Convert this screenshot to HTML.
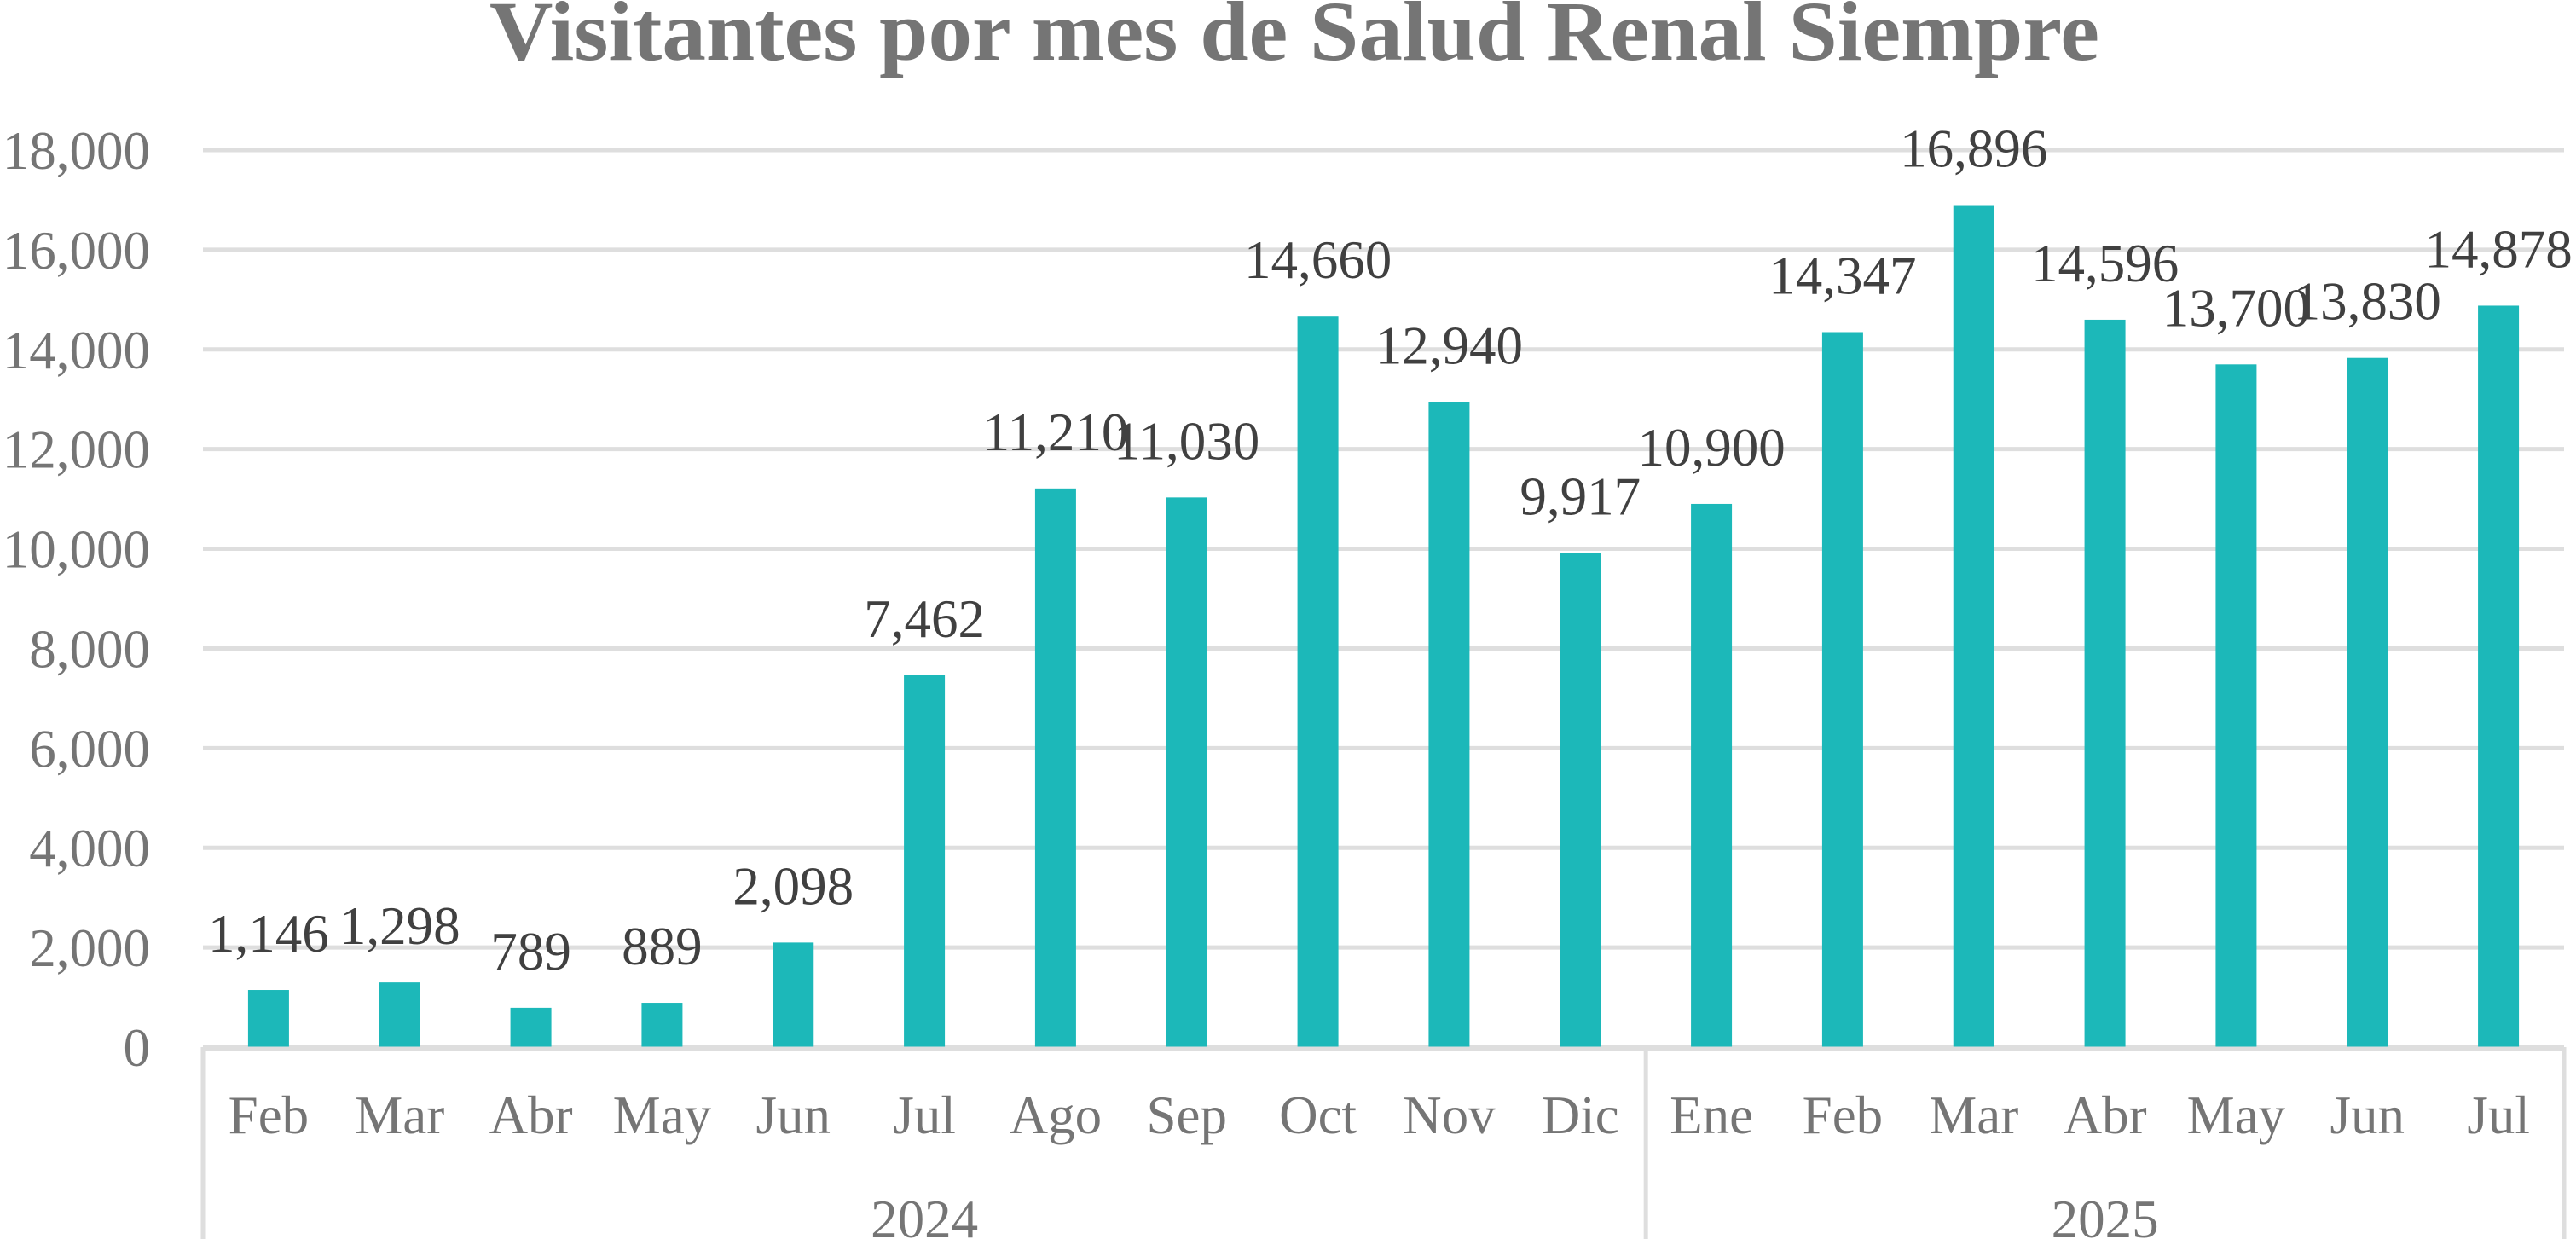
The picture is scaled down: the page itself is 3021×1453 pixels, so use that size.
<!DOCTYPE html>
<html><head><meta charset="utf-8"><style>
html,body{margin:0;padding:0;background:#fff;width:3021px;height:1453px;overflow:hidden}
svg{display:block}
text{font-family:"Liberation Serif",serif}
</style></head><body>
<svg id="chart" width="3021" height="1453" viewBox="0 0 3021 1453" xmlns="http://www.w3.org/2000/svg">
<text x="1518" y="70" text-anchor="middle" font-size="100" font-weight="bold" fill="#757575" textLength="1888" lengthAdjust="spacingAndGlyphs">Visitantes por mes de Salud Renal Siempre</text>
<g id="grid"></g>
<g id="yticks"></g>
<g id="bars"></g>
<g id="labels"></g>
<g id="xaxis"></g>
</svg>
<script>
const months = ["Feb","Mar","Abr","May","Jun","Jul","Ago","Sep","Oct","Nov","Dic","Ene","Feb","Mar","Abr","May","Jun","Jul"];
const values = [1146,1298,789,889,2098,7462,11210,11030,14660,12940,9917,10900,14347,16896,14596,13700,13830,14878];
const years = ["2024","2025"];
const yearCounts = [11,7];
const yTicks = [0,2000,4000,6000,8000,10000,12000,14000,16000,18000];

const NS="http://www.w3.org/2000/svg";
const L=238,R=3007,Y0=1228,Y1=176,YMAX=18000;
const cw=(R-L)/months.length;
const bw=48;
function y(v){return Y0-(Y0-Y1)*v/YMAX;}
function xc(i){return L+cw*(i+0.5);}
function mk(tag,attrs,parent,txt){const e=document.createElementNS(NS,tag);for(const k in attrs)e.setAttribute(k,attrs[k]);if(txt!==undefined)e.textContent=txt;parent.appendChild(e);return e;}
const fmt=v=>v.toLocaleString("en-US");
const grid=document.getElementById("grid"),yt=document.getElementById("yticks"),bars=document.getElementById("bars"),lab=document.getElementById("labels"),xa=document.getElementById("xaxis");
yTicks.forEach(t=>{
  const g=mk("line",{x1:L,x2:R,y1:y(t),y2:y(t),stroke:"#dedede","stroke-width":5},grid);
  
  
  const tx=mk("text",{x:176,y:y(t)+22,"text-anchor":"end","font-size":63,fill:"#757575"},yt,fmt(t));
  
  
});
values.forEach((v,i)=>{
  const b=mk("rect",{x:xc(i)-bw/2,y:y(v),width:bw,height:Y0-y(v),fill:"#1cb8b9"},bars);
  
  
  const t=mk("text",{x:xc(i),y:y(v)-45,"text-anchor":"middle","font-size":63,fill:"#404040"},lab,fmt(v));
  
  
  const m=mk("text",{x:xc(i),y:1329,"text-anchor":"middle","font-size":63,fill:"#757575"},xa,months[i]);
  
  
});
mk("line",{x1:L,x2:R,y1:Y0+2,y2:Y0+2,stroke:"#dedede","stroke-width":5},xa);
let start=0;
const seps=[0];
yearCounts.forEach((c,k)=>{
  const cx=L+cw*(start+c/2);
  const t=mk("text",{x:cx,y:1451,"text-anchor":"middle","font-size":63,fill:"#757575"},xa,years[k]);
  
  
  start+=c;seps.push(start);
});
seps.forEach(s=>{
  const l=mk("line",{x1:L+cw*s,x2:L+cw*s,y1:Y0,y2:1453,stroke:"#dedede","stroke-width":5},xa);
  
  
});
</script>
</body></html>
